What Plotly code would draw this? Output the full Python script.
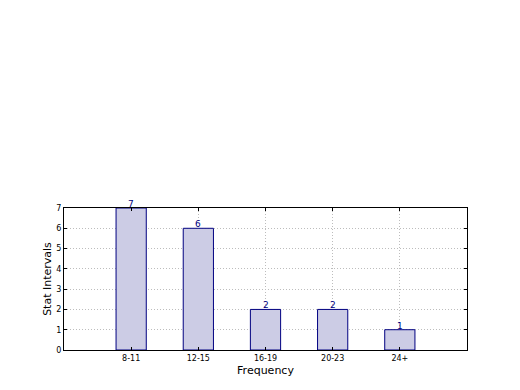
import plotly.graph_objects as go

categories = ["8-11", "12-15", "16-19", "20-23", "24+"]
values = [7, 6, 2, 2, 1]
positions = [0, 1, 2, 3, 4]

fig = go.Figure()
fig.add_trace(go.Bar(
    x=positions, y=values, width=0.45,
    marker=dict(color="rgb(204,204,229)", line=dict(color="#000080", width=1)),
))
for p, v in zip(positions, values):
    fig.add_annotation(
        x=p, y=v, text=str(v), showarrow=False, yanchor="bottom", yshift=-3,
        font=dict(family="DejaVu Sans", size=9, color="#000080"),
    )
fig.update_layout(
    width=520, height=390,
    margin=dict(l=64, r=53, t=208, b=40),
    paper_bgcolor="white", plot_bgcolor="white",
    showlegend=False,
    font=dict(family="DejaVu Sans", color="black"),
)
grid = dict(showgrid=True, gridcolor="#bdbdbd", griddash="1px,2px", gridwidth=1)
fig.update_xaxes(
    range=[-1, 5], tickvals=positions, ticktext=categories,
    tickfont=dict(size=8), ticks="inside", ticklen=3, tickcolor="black",
    showline=True, linecolor="black", linewidth=1, mirror="allticks",
    zeroline=False, **grid,
    title=dict(text="Frequency", font=dict(size=11), standoff=4),
)
fig.update_yaxes(
    range=[0, 7], dtick=1,
    tickfont=dict(size=8), ticks="inside", ticklen=3, tickcolor="black",
    showline=True, linecolor="black", linewidth=1, mirror="allticks",
    zeroline=False, **grid,
    title=dict(text="Stat Intervals", font=dict(size=11), standoff=2),
)
fig.write_html("out.html")
